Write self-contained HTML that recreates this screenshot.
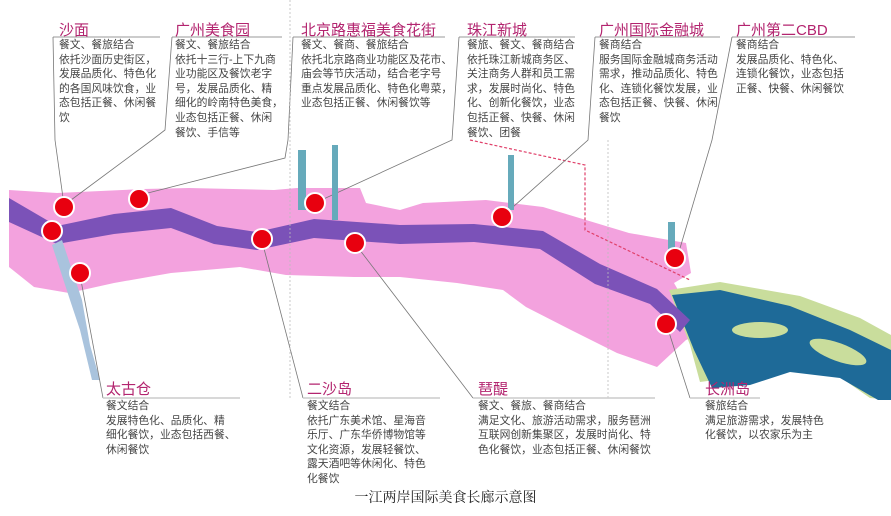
<!DOCTYPE html>
<html><head><meta charset="utf-8"><style>
body{margin:0;width:891px;height:516px;background:#fff;position:relative;overflow:hidden;font-family:"Liberation Sans","Noto Sans CJK SC",sans-serif}
.t{position:absolute;color:#b3246f;font-size:15px;line-height:17px;white-space:nowrap}
.b{position:absolute;color:#444;font-size:10.8px;line-height:14.6px;white-space:nowrap}
svg{position:absolute;left:0;top:0}
</style></head><body>
<svg width="891" height="516">
<path d="M9,190 L57,193 L143,189 L189,188 L274,190 L297,188 L360,188 L366,203 L400,210 L423,203 L486,200 L543,207 L629,233 L686,243 L691,273 L674,283 L703,333 L686,340 L657,367 L617,353 L571,330 L526,307 L503,290 L457,283 L400,277 L354,277 L286,275 L240,267 L171,273 L114,283 L69,293 L34,287 L9,267Z" fill="#f3a2de"/>
<path d="M669,290 L720,282 L800,296 L860,318 L891,335 L891,400 L870,398 L830,370 L770,362 L730,378 L700,382 L690,345Z" fill="#c9dd9c"/>
<path d="M672,295 L720,290 L790,306 L850,330 L891,350 L891,400 L878,400 L840,378 L790,372 L750,385 L712,388 L694,350Z" fill="#1e6a98"/>
<ellipse cx="760" cy="330" rx="28" ry="8" fill="#c9dd9c"/>
<ellipse cx="838" cy="352" rx="30" ry="9" fill="#c9dd9c" transform="rotate(20 838 352)"/>
<path d="M9,198 L57,226 L114,214 L171,208 L217,226 L257,232 L314,219 L400,225 L474,224 L543,231 L600,264 L657,289 L690,320 L680,332 L650,304 L595,284 L540,249 L474,242 L400,244 L314,238 L257,250 L214,244 L171,228 L114,234 L57,244 L9,222Z" fill="#7b52b8"/>
<path d="M62,240 L82,300 L90,345 L100,380 L92,380 L80,330 L70,300 L52,245Z" fill="#a9c3dd"/>
<path d="M470,140 L585,165 L585,230 L690,280" fill="none" stroke="#e0406a" stroke-width="1.2" stroke-dasharray="3,2"/>
<g stroke="#777" stroke-width="0.8" fill="none">
<path d="M53,37 L160,37 M53,37 L55,140 L64,205"/>
<path d="M172,37 L282,37 M172,37 L165,130 L152,140 L67,203"/>
<path d="M293,37 L445,37 M293,37 L288,140 L285,158 L140,195"/>
<path d="M459,37 L575,37 M459,37 L452,140 L317,202"/>
<path d="M595,37 L720,37 M595,37 L588,140 L504,215"/>
<path d="M732,37 L855,37 M732,37 L712,140 L678,255"/>
<path d="M103,398 L80,275"/>
<path d="M303,398 L262,241"/>
<path d="M473,398 L356,245"/>
<path d="M690,398 L667,326"/>
<path d="M290,0 L290,400 M608,140 L608,400" stroke="#bbb" stroke-dasharray="2,2"/>
</g>
<g stroke="#ccc" stroke-width="1.5"><path d="M103,398 L240,398 M303,398 L440,398 M473,398 L655,398 M690,398 L760,398"/></g>
<g fill="#6ab" ><rect x="298" y="150" width="8" height="60"/><rect x="332" y="145" width="6" height="75"/><rect x="508" y="155" width="6" height="55"/><rect x="668" y="222" width="7" height="35"/></g>
<g fill="#e8000f" stroke="#fff" stroke-width="2">
<circle cx="64" cy="207" r="10"/><circle cx="52" cy="231" r="10"/><circle cx="80" cy="273" r="10"/><circle cx="139" cy="199" r="10"/><circle cx="262" cy="239" r="10"/><circle cx="315" cy="203" r="10"/><circle cx="355" cy="243" r="10"/><circle cx="502" cy="217" r="10"/><circle cx="675" cy="258" r="10"/><circle cx="666" cy="324" r="10"/>
</g>
</svg>
<div class="t" style="left:59px;top:22px">沙面</div>
<div class="b" style="left:59px;top:38px">餐文、餐旅结合<br>依托沙面历史街区，<br>发展品质化、特色化<br>的各国风味饮食，业<br>态包括正餐、休闲餐<br>饮</div>
<div class="t" style="left:175px;top:22px">广州美食园</div>
<div class="b" style="left:175px;top:38px">餐文、餐旅结合<br>依托十三行-上下九商<br>业功能区及餐饮老字<br>号，发展品质化、精<br>细化的岭南特色美食，<br>业态包括正餐、休闲<br>餐饮、手信等</div>
<div class="t" style="left:301px;top:22px">北京路惠福美食花街</div>
<div class="b" style="left:301px;top:38px">餐文、餐商、餐旅结合<br>依托北京路商业功能区及花市、<br>庙会等节庆活动，结合老字号<br>重点发展品质化、特色化粤菜，<br>业态包括正餐、休闲餐饮等</div>
<div class="t" style="left:467px;top:22px">珠江新城</div>
<div class="b" style="left:467px;top:38px">餐旅、餐文、餐商结合<br>依托珠江新城商务区、<br>关注商务人群和员工需<br>求，发展时尚化、特色<br>化、创新化餐饮，业态<br>包括正餐、快餐、休闲<br>餐饮、团餐</div>
<div class="t" style="left:599px;top:22px">广州国际金融城</div>
<div class="b" style="left:599px;top:38px">餐商结合<br>服务国际金融城商务活动<br>需求，推动品质化、特色<br>化、连锁化餐饮发展，业<br>态包括正餐、快餐、休闲<br>餐饮</div>
<div class="t" style="left:736px;top:22px">广州第二CBD</div>
<div class="b" style="left:736px;top:38px">餐商结合<br>发展品质化、特色化、<br>连锁化餐饮，业态包括<br>正餐、快餐、休闲餐饮</div>
<div class="t" style="left:106px;top:381px">太古仓</div>
<div class="b" style="left:106px;top:399px">餐文结合<br>发展特色化、品质化、精<br>细化餐饮，业态包括西餐、<br>休闲餐饮</div>
<div class="t" style="left:307px;top:381px">二沙岛</div>
<div class="b" style="left:307px;top:399px">餐文结合<br>依托广东美术馆、星海音<br>乐厅、广东华侨博物馆等<br>文化资源，发展轻餐饮、<br>露天酒吧等休闲化、特色<br>化餐饮</div>
<div class="t" style="left:478px;top:381px">琶醍</div>
<div class="b" style="left:478px;top:399px">餐文、餐旅、餐商结合<br>满足文化、旅游活动需求，服务琶洲<br>互联网创新集聚区，发展时尚化、特<br>色化餐饮，业态包括正餐、休闲餐饮</div>
<div class="t" style="left:705px;top:381px">长洲岛</div>
<div class="b" style="left:705px;top:399px">餐旅结合<br>满足旅游需求，发展特色<br>化餐饮，以农家乐为主</div>
<div style="position:absolute;left:0;width:891px;top:487px;text-align:center;font-size:14px;color:#222;font-family:'Liberation Serif','Noto Serif CJK SC',serif">一江两岸国际美食长廊示意图</div>
</body></html>
